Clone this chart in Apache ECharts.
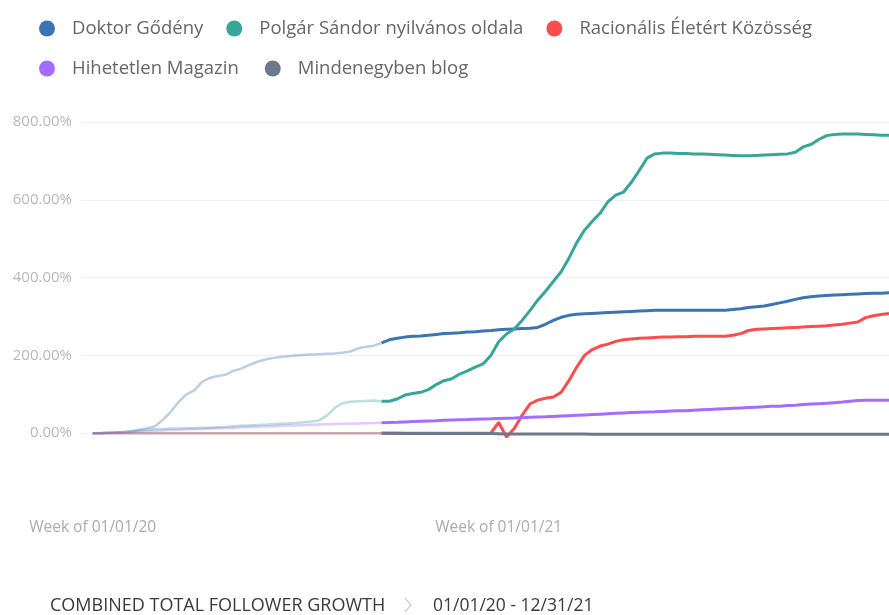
<!DOCTYPE html>
<html>
<head>
<meta charset="utf-8">
<script src="https://cdn.jsdelivr.net/npm/echarts@6/dist/echarts.min.js"></script>
<style>
html,body{margin:0;padding:0;background:#fff;}
#chart{width:889px;height:615px;}
</style>
</head>
<body>
<div id="chart"></div>
<script>
// ---- data (weekly, week 0 = week of 01/01/20) ----
var seriesNames = ['Doktor Gődény', 'Polgár Sándor nyilvános oldala', 'Racionális Életért Közösség', 'Hihetetlen Magazin', 'Mindenegyben blog'];
var seriesColors = ['#3b74b0', '#37a698', '#ff4c4c', '#a56dff', '#6a798c'];
var xTickWeeks = [0, 52];
var xTickLabels = ['Week of 01/01/20', 'Week of 01/01/21'];
var highlightStartWeek = 37;

var doktor = [0,0,1,2,3,5,9,13,18,35,55,80,100,110,132,142,147,150,160,166,
  175,183,189,193,196,198,200,201,202,203,204,205,207,210,218,222,225,232,240,244,
  247,249,250,252,254,256,257,258,260,261,263,264,266,267,268,269,270,272,280,290,
  298,303,306,307,308,309,310,311,312,313,314,315,316,316,316,316,316,316,316,316,
  316,316,318,320,323,325,327,331,335,339,344,348,351,353,354,355,356,357,358,359,
  360,360,361];
var polgar = [0,0,1,2,3,5,7,9,10,11,12,12,13,13,14,14,15,16,18,19,
  20,21,22,23,24,25,26,28,30,33,45,65,77,81,82,83,84,82,82,88,
  98,102,105,112,125,135,140,152,160,170,178,200,235,255,268,290,315,342,365,390,
  415,450,490,522,545,566,595,612,620,645,675,707,718,720,720,719,719,718,718,717,
  716,715,714,713,713,714,715,716,717,718,722,736,742,755,765,768,769,769,769,768,
  767,766,766];
var racionalis = [0,0,0,0,0,0,0,0,0,0,0,0,0,0,0,0,0,0,0,0,
  0,0,0,0,0,0,0,0,0,0,0,0,0,0,0,0,0,0,0,0,
  0,0,0,0,0,0,0,0,0,0,0,0,28,-10,12,46,75,85,90,93,
  105,135,170,200,215,224,229,236,240,242,244,245,246,247,247,248,248,249,249,249,
  249,249,252,256,264,267,268,269,270,271,272,273,274,275,276,278,280,283,286,297,
  302,305,308];
var hihetetlen = [0,0.5,1,1.5,2,3,4,5,6,7,8,9,10,10.5,11,12,13,13.5,14,15,
  16,16.5,17,18,19,19.5,20,21,22,22.5,23,23.5,24,24.5,25,25.5,26,27,27.5,28,
  29,30,31,31.5,32,33,34,34.5,35,36,36.5,37,38,38.5,39,40,41,41.5,42,43,
  44,45,46,47,48,49,50,51,52,53,54,54.5,55,56,57,57.5,58,59,60,61,
  62,63,64,65,66,67,68,69,69.5,71,72,73.5,75,76,77,78.5,80,82,84,84.5,
  85,85,85];
var mindenegyben = [0,0,0,0,0,0,0,0,0,0,0,0,0,0,0,0,0,0,0,0,
  0,0,0,0,0,0,0,0,0,0,0,0,0,0,0,0,0,0,0,0,
  -0.5,-0.5,-0.5,-0.5,-1,-1,-1,-1,-1,-1,-1,-1,-1.5,-2,-2,-2,-2,-2,-2,-2,
  -2,-2,-2,-2,-2.5,-2.5,-2.5,-2.5,-2.5,-2.5,-2.5,-2.5,-2.5,-2.5,-2.5,-2.5,-2.5,-2.5,-2.5,-2.5,
  -2.5,-2.5,-2.5,-2.5,-2.5,-2.5,-2.5,-2.5,-2.5,-2.5,-2.5,-2.5,-2.5,-2.5,-2.5,-2.5,-2.5,-2.5,-2.5,-2.5,
  -2.5,-2.5,-2.5];
var yTickValues = [0, 200, 400, 600, 800];
var footerTitle = 'COMBINED TOTAL FOLLOWER GROWTH';
var footerRange = '01/01/20 - 12/31/21';

var allValues = [doktor, polgar, racionalis, hihetetlen, mindenegyben];

function toPairs(arr, from, to) {
  var out = [];
  for (var i = from; i <= to && i < arr.length; i++) out.push([i, arr[i]]);
  return out;
}

var series = [];
allValues.forEach(function (vals, k) {
  series.push({
    name: seriesNames[k], type: 'line', showSymbol: false, smooth: false,
    data: toPairs(vals, highlightStartWeek, vals.length - 1),
    itemStyle: { color: seriesColors[k] },
    lineStyle: { color: seriesColors[k], width: 3 },
    z: 3 + k, silent: true, animation: false
  });
});
allValues.forEach(function (vals, k) {
  series.push({
    name: seriesNames[k], type: 'line', showSymbol: false, smooth: false,
    data: toPairs(vals, 0, highlightStartWeek),
    itemStyle: { color: seriesColors[k] },
    lineStyle: { color: seriesColors[k], width: 2.5, opacity: 0.35 },
    z: 2, silent: true, animation: false
  });
});

var FONT = '"Open Sans", "Noto Sans", sans-serif';
function legendRow(names, top, gap) {
  return {
    data: names.map(function (n) { return { name: n, icon: 'circle' }; }),
    left: 39, top: top, padding: 0, orient: 'horizontal',
    itemWidth: 16, itemHeight: 16, itemGap: gap,
    textStyle: { color: '#666666', fontSize: 18.5, fontFamily: FONT, padding: [0, 0, 0, 12], lineHeight: 16 },
    selectedMode: false
  };
}
var chart = echarts.init(document.getElementById('chart'));
chart.setOption({
  backgroundColor: '#ffffff',
  animation: false,
  legend: [
    legendRow(seriesNames.slice(0, 3), 19, 23),
    legendRow(seriesNames.slice(3), 59, 26)
  ],
  grid: { left: 81, right: 0, top: 122, bottom: 104 },
  xAxis: {
    type: 'value', min: -1.5, max: 102,
    axisLine: { show: false },
    axisTick: { show: true, customValues: xTickWeeks, length: 7, lineStyle: { color: '#ececec' } },
    axisLabel: {
      customValues: xTickWeeks, margin: 9,
      color: '#ababab', fontSize: 15.5, fontFamily: FONT,
      formatter: function (v) { var i = xTickWeeks.indexOf(v); return i >= 0 ? xTickLabels[i] : ''; }
    },
    splitLine: { show: false }
  },
  yAxis: {
    type: 'value', min: -200, max: 800, interval: 200,
    axisLine: { show: false }, axisTick: { show: false },
    axisLabel: {
      margin: 9, color: '#b8b8b8', fontSize: 15, fontFamily: FONT,
      formatter: function (v) { return yTickValues.indexOf(v) >= 0 ? v.toFixed(2) + '%' : ''; }
    },
    splitLine: { lineStyle: { color: ['rgba(0,0,0,0)', '#f1f1f1', '#f1f1f1', '#f1f1f1', '#f1f1f1', '#f1f1f1'], width: 1 } }
  },
  graphic: [
    { type: 'text', x: 50, y: 606, style: { text: footerTitle, fill: '#3a3a3a', font: '18px ' + FONT, verticalAlign: 'middle' } },
    { type: 'polyline', shape: { points: [[405, 598], [411, 605], [405, 612]] }, style: { stroke: '#cfcfcf', lineWidth: 1.3, fill: null } },
    { type: 'text', x: 433, y: 606, style: { text: footerRange, fill: '#3a3a3a', font: '17.5px ' + FONT, verticalAlign: 'middle' } }
  ],
  series: series
});
</script>
</body>
</html>
